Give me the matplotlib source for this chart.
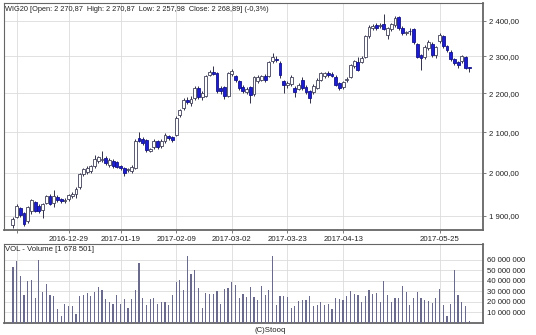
import numpy as np
import matplotlib
matplotlib.use('Agg')
import matplotlib.pyplot as plt
from matplotlib.ticker import FixedLocator, FuncFormatter, NullLocator

plt.rcParams['font.family'] = ['Liberation Sans', 'DejaVu Sans']

# WIG20 daily candles, index 0..123 (trading days)
opens = [1880, 1898, 1917, 1906, 1888, 1910, 1931, 1923, 1914, 1930,
         1945, 1930, 1944, 1938, 1935, 1938, 1945, 1950, 1966, 1997,
         2003, 2004, 2017, 2030, 2032, 2036, 2020, 2030, 2027, 2016,
         2012, 2006, 2005, 2013, 2086, 2083, 2081, 2054, 2062, 2078,
         2065, 2078, 2090, 2088, 2092, 2143, 2161, 2183, 2174, 2187,
         2214, 2190, 2193, 2250, 2258, 2253, 2214, 2216, 2194, 2252,
         2245, 2232, 2217, 2204, 2217, 2198, 2232, 2236, 2246, 2245,
         2286, 2292, 2282, 2232, 2222, 2225, 2215, 2212, 2235, 2217,
         2205, 2203, 2215, 2236, 2245, 2254, 2252, 2243, 2226, 2216,
         2234, 2243, 2272, 2285, 2284, 2299, 2355, 2378, 2386, 2385,
         2390, 2358, 2375, 2386, 2411, 2380, 2364, 2370, 2376, 2333,
         2302, 2297, 2322, 2335, 2302, 2341, 2355, 2327, 2312, 2292,
         2283, 2286, 2298, 2270.87]
highs = [1897, 1926, 1920, 1909, 1923, 1939, 1934, 1926, 1930, 1948,
         1950, 1960, 1948, 1941, 1940, 1950, 1955, 1966, 2000, 2012,
         2016, 2020, 2043, 2041, 2053, 2040, 2035, 2034, 2030, 2020,
         2014, 2013, 2018, 2082, 2100, 2088, 2084, 2060, 2083, 2081,
         2082, 2098, 2094, 2090, 2140, 2160, 2187, 2190, 2192, 2218,
         2219, 2205, 2250, 2262, 2273, 2256, 2218, 2220, 2258, 2265,
         2250, 2236, 2222, 2216, 2220, 2247, 2248, 2250, 2252, 2286,
         2310, 2300, 2288, 2236, 2232, 2248, 2220, 2226, 2244, 2222,
         2210, 2224, 2240, 2258, 2258, 2259, 2256, 2248, 2230, 2233,
         2244, 2278, 2290, 2298, 2300, 2358, 2386, 2390, 2392, 2392,
         2420, 2382, 2394, 2412, 2414, 2384, 2371, 2378, 2378, 2336,
         2306, 2330, 2344, 2340, 2328, 2364, 2358, 2330, 2316, 2296,
         2287, 2303, 2300, 2270.87]
lows = [1873, 1894, 1897, 1876, 1884, 1905, 1908, 1906, 1895, 1927,
        1925, 1921, 1932, 1930, 1929, 1934, 1940, 1940, 1962, 1992,
        1997, 1999, 2013, 2024, 2026, 2018, 2014, 2012, 2011, 2008,
        1992, 2002, 2000, 2010, 2075, 2068, 2050, 2050, 2058, 2059,
        2060, 2074, 2080, 2076, 2090, 2138, 2157, 2172, 2168, 2183,
        2186, 2182, 2190, 2245, 2248, 2200, 2198, 2186, 2190, 2247,
        2230, 2210, 2200, 2198, 2175, 2194, 2228, 2232, 2230, 2242,
        2282, 2285, 2240, 2200, 2215, 2220, 2190, 2208, 2210, 2198,
        2175, 2198, 2212, 2232, 2240, 2243, 2242, 2218, 2210, 2212,
        2230, 2240, 2268, 2260, 2280, 2296, 2350, 2372, 2374, 2380,
        2372, 2348, 2370, 2382, 2374, 2360, 2360, 2360, 2334, 2295,
        2262, 2292, 2318, 2298, 2296, 2336, 2322, 2311, 2288, 2276,
        2268, 2282, 2265, 2257.98]
closes = [1893, 1922, 1901, 1882, 1920, 1936, 1911, 1911, 1926, 1945,
          1928, 1946, 1936, 1935, 1937, 1947, 1951, 1962, 1997, 2009,
          2012, 2017, 2033, 2038, 2034, 2025, 2031, 2016, 2015, 2012,
          2000, 2009, 2015, 2079, 2078, 2073, 2055, 2057, 2079, 2063,
          2078, 2092, 2085, 2081, 2136, 2156, 2183, 2176, 2186, 2214,
          2190, 2200, 2247, 2258, 2252, 2205, 2205, 2192, 2255, 2259,
          2235, 2215, 2205, 2212, 2195, 2243, 2243, 2245, 2234, 2283,
          2298, 2290, 2250, 2222, 2227, 2243, 2203, 2222, 2215, 2203,
          2187, 2220, 2236, 2254, 2254, 2249, 2246, 2222, 2215, 2229,
          2238, 2275, 2287, 2263, 2296, 2355, 2383, 2385, 2378, 2388,
          2376, 2378, 2390, 2408, 2378, 2366, 2367, 2369, 2339, 2299,
          2296, 2325, 2340, 2303, 2324, 2360, 2327, 2316, 2292, 2281,
          2275, 2300, 2268, 2268.89]
# volume in millions of shares
vol_mln = [53.5, 58.7, 45, 26.6, 40, 41, 24, 60, 29, 37,
           26.6, 25, 13, 6.4, 18, 16, 16, 8, 25.6, 26,
           28, 25.6, 29, 34, 31, 23, 20, 18, 26, 17.6,
           23, 14.4, 23, 31, 57, 24, 17, 23, 24, 18,
           19.5, 19.5, 17, 26, 39, 41, 31, 64, 46, 50,
           33, 14.4, 28, 27, 27, 30, 18, 32, 33, 39,
           36, 24, 27, 24.7, 33.6, 24.7, 21.5, 35, 26.6, 31,
           63.5, 17, 25.6, 25.6, 24.4, 14, 15.7, 21, 22, 22,
           25.6, 15.7, 16.7, 20, 17.3, 17.6, 12.8, 23.4, 22.8, 21.5,
           25.6, 30.4, 27.6, 26.6, 20, 25.3, 31, 27, 28, 20,
           40, 26.6, 20, 24, 23.7, 35, 29, 17.3, 23.4, 29,
           23.4, 22, 21, 19, 24, 32, 17.3, 6.7, 18, 50,
           26, 20, 16, 1.678501]

tick_idx = [1, 15, 29, 44, 59, 74, 89, 115]
tick_labels = ['', '2016-12-29', '2017-01-19', '2017-02-09', '2017-03-02',
               '2017-03-23', '2017-04-13', '2017-05-25']
price_ticks = [1900, 2000, 2100, 2200, 2300, 2400]
vol_ticks = [10e6, 20e6, 30e6, 40e6, 50e6, 60e6]


def pl_num(v, dec):
    s = f"{v:,.{dec}f}"
    return s.replace(',', ' ').replace('.', ',')


o = np.array(opens)
h = np.array(highs)
l = np.array(lows)
c = np.array(closes)
vol = np.array(vol_mln) * 1e6
x = np.arange(len(o))
up = c >= o

fig = plt.figure(figsize=(5.36, 3.35), dpi=100)
ax = fig.add_axes([0.0075, 0.3134, 0.8935, 0.6776])
axv = fig.add_axes([0.0075, 0.0367, 0.8935, 0.2363])

grid_c = '#dcdcdc'
frame_c = '#666666'

# price panel
ax.set_yscale('log')
ax.vlines(x, l, h, color='#303048', lw=0.7, zorder=2)
body_lo = np.minimum(o, c)
body_h = np.maximum(np.abs(c - o), 0.6)
ax.bar(x[up], body_h[up], bottom=body_lo[up], width=0.78,
       color='white', edgecolor='#404058', lw=0.6, zorder=3)
ax.bar(x[~up], body_h[~up], bottom=body_lo[~up], width=0.78,
       color='#1c1cd0', edgecolor='#141488', lw=0.6, zorder=3)
ax.set_xlim(-2.4, 126.7)
ax.set_ylim(1868, 2451)
ax.yaxis.set_major_locator(FixedLocator(price_ticks))
ax.yaxis.set_minor_locator(NullLocator())
ax.yaxis.set_major_formatter(FuncFormatter(lambda v, p: pl_num(v, 2)))
ax.yaxis.tick_right()
ax.set_xticks(tick_idx)
ax.set_xticklabels(tick_labels)
ax.tick_params(axis='both', labelsize=5.6, length=2.5, width=0.6,
               color=frame_c, pad=2, labelcolor='#222222')
ax.grid(True, color=grid_c, lw=0.6, zorder=0)
ax.set_axisbelow(True)
ax.text(0.003, 0.985, 'WIG20 [Open: 2 270,87  High: 2 270,87  Low: 2 257,98  '
        'Close: 2 268,89] (-0,3%)', transform=ax.transAxes, fontsize=5.3,
        va='top', ha='left', color='#222222')

# volume panel
axv.bar(x, vol, width=0.32, color='#6a6a8c', zorder=3)
axv.set_xlim(-2.4, 126.7)
axv.set_ylim(0, 75.5e6)
axv.yaxis.set_major_locator(FixedLocator(vol_ticks))
axv.yaxis.set_major_formatter(FuncFormatter(lambda v, p: pl_num(v, 0)))
axv.yaxis.tick_right()
axv.set_xticks(tick_idx)
axv.set_xticklabels([])
axv.tick_params(axis='both', labelsize=5.6, length=0, pad=3,
                labelcolor='#222222')
axv.grid(True, color=grid_c, lw=0.6, zorder=0)
axv.set_axisbelow(True)
axv.text(0.003, 0.97, 'VOL - Volume [1 678 501]', transform=axv.transAxes,
         fontsize=5.6, va='top', ha='left', color='#222222')

for a in (ax, axv):
    for s in a.spines.values():
        s.set_color(frame_c)
        s.set_linewidth(0.8)
    a.spines['right'].set_linewidth(1.3)
    a.spines['bottom'].set_linewidth(1.3)

fig.text(0.505, 0.004, '(C)Stooq', fontsize=5.6, ha='center', va='bottom',
         color='#222222')

fig.savefig('out.png', dpi=100)
